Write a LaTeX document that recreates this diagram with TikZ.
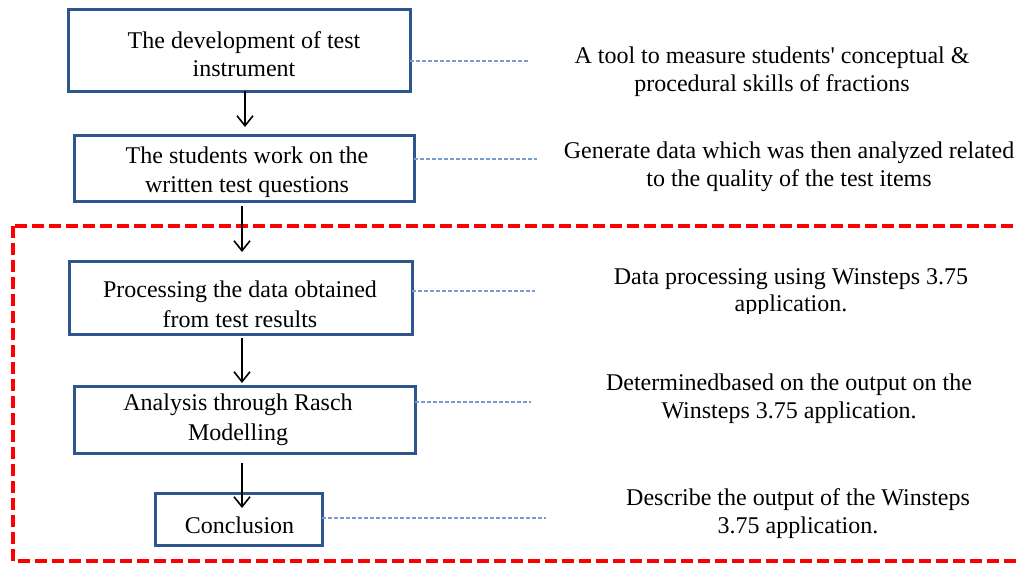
\documentclass[tikz,border=0pt]{standalone}
\usepackage{fontspec}
\setmainfont{Liberation Serif}
\usetikzlibrary{arrows.meta}
\definecolor{boxblue}{RGB}{47,85,143}
\definecolor{dotblue}{RGB}{120,155,210}
\definecolor{frred}{RGB}{255,0,0}
\newcommand\twoline[3]{\fontsize{24pt}{#1}\selectfont\begin{tabular}[t]{@{}c@{}}#2\\#3\end{tabular}}
\newcommand\oneline[1]{\fontsize{24pt}{28pt}\selectfont #1}
\begin{document}
\begin{tikzpicture}[x=1pt,y=-1pt,
  stepbox/.style={draw=boxblue, line width=3pt, inner sep=0pt, outer sep=0pt},
  txt/.style={inner sep=0pt, outer sep=0pt, anchor=base, text=black},
  arr/.style={draw=black, line width=1.6pt, -{Straight Barb[length=10pt,width=16pt,line width=1.6pt]}},
  dotline/.style={draw=dotblue, line width=1.5pt, dash pattern=on 4pt off 2pt},
  frame/.style={draw=frred, line width=3.5pt, dash pattern=on 12pt off 5pt}]
\useasboundingbox (0,0) rectangle (1017,563);

% red dashed frame
\draw[frame] (13,226) rectangle (1045,561);

% boxes
\node[stepbox, minimum width=342pt, minimum height=82pt] (b1) at (239,50) {};
\node[stepbox, minimum width=340pt, minimum height=66pt] (b2) at (244,168) {};
\node[stepbox, minimum width=343pt, minimum height=73pt] (b3) at (240.5,297.5) {};
\node[stepbox, minimum width=341pt, minimum height=67pt] (b4) at (244.5,419.5) {};
\node[stepbox, minimum width=167pt, minimum height=52pt] (b5) at (238.5,519) {};

% box texts
\node[txt] (b1t) at (244,48) {\twoline{28pt}{The development of test}{instrument}};
\node[txt] (b2t) at (247,163) {\twoline{29pt}{The students work on the}{written test questions}};
\node[txt] (b3t) at (240,297) {\twoline{30pt}{Processing the data obtained}{from test results}};
\node[txt] (b4t) at (238,410) {\twoline{30pt}{Analysis through Rasch}{Modelling}};
\node[txt] (b5t) at (239.5,533) {\oneline{Conclusion}};

% arrows
\draw[arr, shorten >=8pt] ([xshift=6pt]b1.south) -- ([xshift=1pt]b2.north);
\draw[arr, shorten <=5pt, shorten >=9pt] ([xshift=-2pt]b2.south) -- ([xshift=1.5pt]b3.north);
\draw[arr, shorten <=4pt, shorten >=3pt] ([xshift=1.5pt]b3.south) -- ([xshift=-2.5pt]b4.north);
\draw[arr, shorten <=10pt, shorten >=11pt] ([xshift=-2.5pt]b4.south) -- ([xshift=3.5pt]b5.center);

% free ends of dotted connectors
\coordinate (c1) at (530,61);
\coordinate (c2) at (537,159);
\coordinate (c3) at (535,291);
\coordinate (c4) at (531,402);
\coordinate (c5) at (546,518);
\draw[dotline] (b1.east |- c1) -- (c1);
\draw[dotline] (b2.east |- c2) -- (c2);
\draw[dotline] (b3.east |- c3) -- (c3);
\draw[dotline] (b4.east |- c4) -- (c4);
\draw[dotline] (b5.east |- c5) -- (c5);

% right-hand descriptions
\node[txt] (t1) at (772,63) {\twoline{28pt}{A tool to measure students\textquotesingle{} conceptual \&}{procedural skills of fractions}};
\node[txt] (t2) at (789,158) {\twoline{28pt}{Generate data which was then analyzed related}{to the quality of the test items}};
\begin{scope}
\clip (560,250) rectangle (1017,313.5);
\node[txt] (t3) at (791,284) {\twoline{27pt}{Data processing using Winsteps 3.75}{application.}};
\end{scope}
\node[txt] (t4) at (789,390) {\twoline{28pt}{Determinedbased on the output on the}{Winsteps 3.75 application.}};
\node[txt] (t5) at (798,505) {\twoline{28pt}{Describe the output of the Winsteps}{3.75 application.}};
\end{tikzpicture}
\end{document}
